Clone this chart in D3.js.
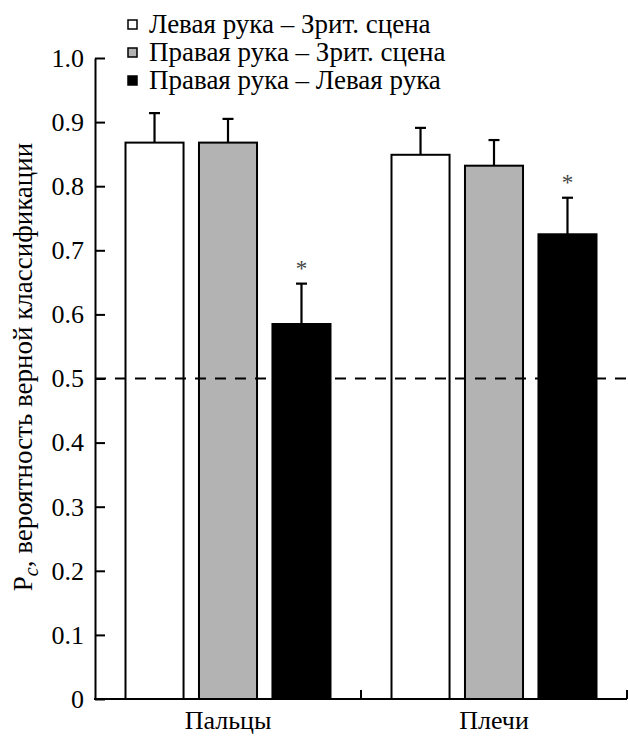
<!DOCTYPE html>
<html>
<head>
<meta charset="utf-8">
<script src="https://cdn.jsdelivr.net/npm/d3@7"></script>
</head>
<body style="margin:0; background:#fff">
<svg width="628" height="736" font-family="Liberation Serif"></svg>
<script>
'use strict'

const groups = ['Пальцы', 'Плечи']
const series = ['Левая рука – Зрит. сцена', 'Правая рука – Зрит. сцена', 'Правая рука – Левая рука']
const fills = ['#ffffff', '#b3b3b3', '#000000']
const means = [[0.868, 0.868, 0.585], [0.849, 0.832, 0.725]]
const errors = [[0.046, 0.037, 0.063], [0.042, 0.040, 0.057]]
const stars = [[false, false, true], [false, false, true]]
const yTicks = [0, 0.1, 0.2, 0.3, 0.4, 0.5, 0.6, 0.7, 0.8, 0.9, 1.0]
const chance = 0.5

const font = 'Liberation Serif'
const svg = d3.select('svg')
const plotLeft = 95, plotRight = 627, plotTop = 58, plotBottom = 699

const x = d3.scaleBand().domain(groups).range([plotLeft, plotRight]).padding(0)
const x1 = d3.scaleBand().domain(d3.range(series.length)).range([30.5, 235.5]).paddingInner(0.21)
const y = d3.scaleLinear().domain([0, 1]).range([plotBottom, plotTop])

const rows = groups.flatMap((g, gi) => series.map((s, si) => ({
  g, si, v: means[gi][si], e: errors[gi][si], star: stars[gi][si]
})))

// bars
const bar = svg.append('g').selectAll('g.bar').data(rows)
  .enter()
  .append('g')
  .classed('bar', true)
  .attr('transform', (d) => `translate(${x(d.g) + x1(d.si)},0)`)

bar.append('line')
  .attr('x1', x1.bandwidth() / 2).attr('x2', x1.bandwidth() / 2)
  .attr('y1', (d) => y(d.v)).attr('y2', (d) => y(d.v + d.e))
  .attr('stroke', '#000').attr('stroke-width', 2.2)
bar.append('line')
  .attr('x1', x1.bandwidth() / 2 - 5.5).attr('x2', x1.bandwidth() / 2 + 5.5)
  .attr('y1', (d) => y(d.v + d.e)).attr('y2', (d) => y(d.v + d.e))
  .attr('stroke', '#000').attr('stroke-width', 2.2)

bar.append('rect')
  .attr('x', 0)
  .attr('width', x1.bandwidth())
  .attr('y', (d) => y(d.v))
  .attr('height', (d) => y(0) - y(d.v))
  .attr('fill', (d) => fills[d.si])
  .attr('stroke', '#000')
  .attr('stroke-width', 2)

bar.filter((d) => d.star).append('text')
  .attr('x', x1.bandwidth() / 2)
  .attr('y', (d) => y(d.v + d.e) - 8)
  .attr('text-anchor', 'middle')
  .attr('font-family', font)
  .attr('font-size', 23)
  .attr('fill', '#444')
  .text('*')

// chance line
svg.append('line')
  .attr('x1', plotLeft).attr('x2', plotRight)
  .attr('y1', y(chance)).attr('y2', y(chance))
  .attr('stroke', '#000').attr('stroke-width', 2)
  .attr('stroke-dasharray', '11,9')

// y axis
const yAxis = d3.axisLeft(y).tickValues(yTicks)
  .tickSizeInner(-10).tickSizeOuter(0).tickPadding(11)
  .tickFormat((d) => d === 0 ? '0' : d3.format('.1f')(d))
const gy = svg.append('g').attr('transform', `translate(${plotLeft},0)`).call(yAxis)
  .attr('font-family', font).attr('font-size', 26)
gy.selectAll('line, path').attr('stroke', '#000').attr('stroke-width', 2)

// x axis
const xAxis = d3.axisBottom(x).tickSize(0).tickPadding(12)
const gx = svg.append('g').attr('transform', `translate(0,${plotBottom})`).call(xAxis)
  .attr('font-family', font).attr('font-size', 26)
gx.select('.domain').remove()
svg.append('line')
  .attr('x1', plotLeft - 1).attr('x2', plotRight)
  .attr('y1', plotBottom).attr('y2', plotBottom)
  .attr('stroke', '#000').attr('stroke-width', 2)
svg.selectAll('line.xb').data(groups.slice(1).concat(['end']))
  .enter()
  .append('line')
  .classed('xb', true)
  .attr('x1', (d) => d === 'end' ? plotRight : x(d))
  .attr('x2', (d) => d === 'end' ? plotRight : x(d))
  .attr('y1', plotBottom).attr('y2', plotBottom - 9)
  .attr('stroke', '#000').attr('stroke-width', 2)

// y title
const title = svg.append('text')
  .attr('transform', 'translate(32,367) rotate(-90)')
  .attr('text-anchor', 'middle')
  .attr('font-family', font)
  .attr('font-size', 27)
title.append('tspan').text('P')
title.append('tspan').attr('dy', 6).attr('font-style', 'italic').attr('font-size', 20).text('c')
title.append('tspan').attr('dy', -6).text(', вероятность верной классификации')

// legend
const legend = svg.append('g').selectAll('g.leg').data(series)
  .enter()
  .append('g')
  .classed('leg', true)
  .attr('transform', (d, i) => `translate(128,${24.5 + i * 28})`)
legend.append('rect')
  .attr('x', 0).attr('y', -4.5)
  .attr('width', 9).attr('height', 9)
  .attr('fill', (d, i) => fills[i])
  .attr('stroke', '#000').attr('stroke-width', 1.5)
legend.append('text')
  .attr('x', 21).attr('y', 8.5)
  .attr('font-family', font)
  .attr('font-size', 27)
  .text((d) => d)
</script>
</body>
</html>
